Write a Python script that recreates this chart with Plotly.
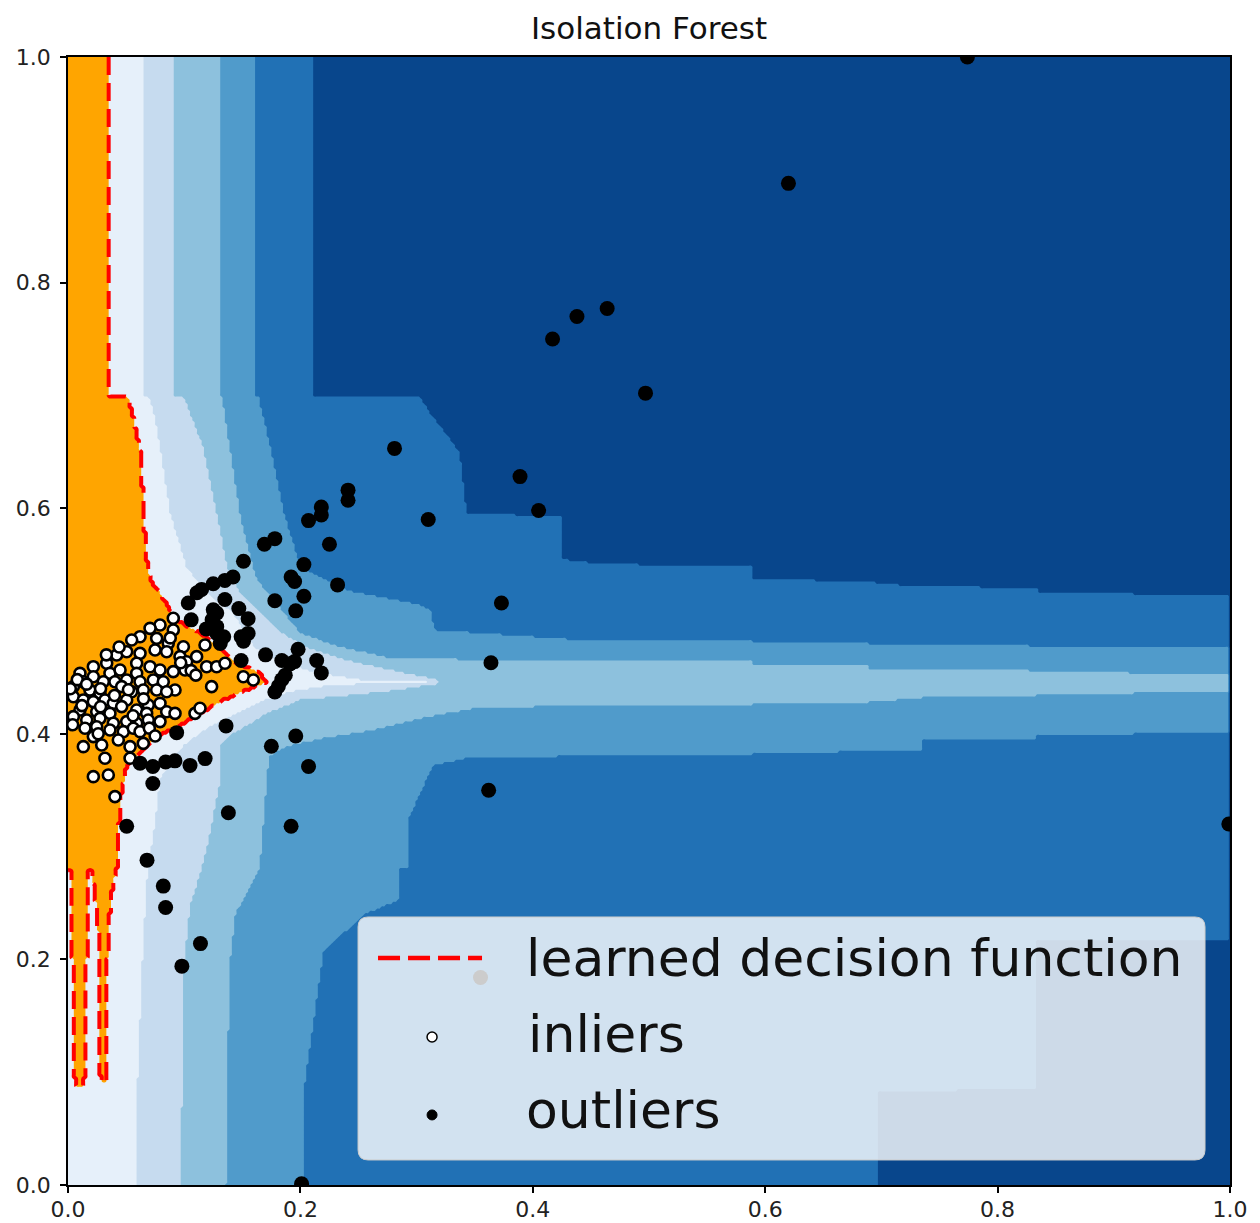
import numpy as np
import plotly.graph_objects as go

# ---- score bands: 0 = most anomalous ... 5 = just below threshold, 6 = above threshold
band_colors = ["#08468c", "#2171b5", "#509bcb", "#8dc1dd", "#c6dbef", "#e6f0fa", "#ffa500"]

# Right-hand edge (x) of the region whose score reaches each band, as (y, x) vertices, top to bottom.
edge_band1 = [(1.0, 0.211), (0.700, 0.211), (0.698, 0.303), (0.684, 0.312), (0.660, 0.330),
              (0.649, 0.337), (0.596, 0.343), (0.592, 0.426), (0.5545, 0.426), (0.5505, 0.460),
              (0.5485, 0.588), (0.5365, 0.590), (0.5355, 0.696), (0.5325, 0.696), (0.5315, 0.736),
              (0.5305, 0.736), (0.5295, 0.836), (0.5245, 0.836), (0.5235, 1.0), (0.218, 1.0),
              (0.216, 0.834), (0.085, 0.834), (0.083, 0.697), (0.0, 0.697)]
edge_band2 = [(1.0, 0.162), (0.700, 0.162), (0.698, 0.165), (0.690, 0.166), (0.655, 0.174),
              (0.595, 0.186), (0.548, 0.200), (0.527, 0.240), (0.515, 0.300), (0.510, 0.312),
              (0.495, 0.315), (0.492, 0.318), (0.4835, 0.437), (0.4828, 0.590), (0.4815, 0.590),
              (0.4808, 0.690), (0.4795, 0.690), (0.4788, 0.828), (0.4775, 0.828), (0.4768, 1.0),
              (0.4005, 1.0), (0.3995, 0.834), (0.3955, 0.834), (0.3945, 0.735), (0.3845, 0.735),
              (0.3835, 0.590), (0.3815, 0.590), (0.3805, 0.440), (0.378, 0.341), (0.372, 0.315),
              (0.356, 0.307), (0.324, 0.293), (0.282, 0.293), (0.280, 0.286), (0.253, 0.286),
              (0.241, 0.257), (0.208, 0.220), (0.081, 0.2025), (0.0, 0.202)]
edge_band3 = [(1.0, 0.131), (0.700, 0.131), (0.698, 0.133), (0.690, 0.134), (0.655, 0.139),
              (0.595, 0.148), (0.581, 0.151), (0.548, 0.159), (0.536, 0.163), (0.525, 0.172),
              (0.507, 0.186), (0.489, 0.200), (0.477, 0.234), (0.468, 0.274), (0.4655, 0.350),
              (0.4640, 0.590), (0.4610, 0.590), (0.4600, 0.690), (0.4575, 0.690), (0.4565, 0.828),
              (0.4545, 0.828), (0.4535, 1.0), (0.4365, 1.0), (0.4355, 0.834), (0.4335, 0.834),
              (0.4325, 0.736), (0.4305, 0.736), (0.4295, 0.690), (0.4275, 0.690), (0.4265, 0.590),
              (0.4258, 0.590), (0.4250, 0.450), (0.423, 0.352), (0.415, 0.310), (0.403, 0.260),
              (0.396, 0.220), (0.389, 0.188), (0.380, 0.173), (0.359, 0.171), (0.280, 0.165),
              (0.250, 0.150), (0.244, 0.1445), (0.194, 0.139), (0.080, 0.137), (0.0, 0.136)]
edge_band4 = [(1.0, 0.091), (0.700, 0.091), (0.698, 0.100), (0.690, 0.103), (0.655, 0.116),
              (0.595, 0.128), (0.548, 0.137), (0.525, 0.148), (0.507, 0.166), (0.489, 0.185),
              (0.477, 0.205), (0.465, 0.240), (0.455, 0.285), (0.4475, 0.320), (0.4445, 0.320),
              (0.437, 0.270), (0.430, 0.200), (0.418, 0.171), (0.400, 0.142), (0.389, 0.131),
              (0.359, 0.131), (0.300, 0.120), (0.277, 0.114), (0.247, 0.105), (0.194, 0.0998),
              (0.0, 0.097)]
edge_band5 = [(1.0, 0.065), (0.700, 0.065), (0.698, 0.070), (0.680, 0.075), (0.655, 0.079),
              (0.595, 0.088), (0.548, 0.102), (0.525, 0.119), (0.507, 0.142), (0.490, 0.152),
              (0.477, 0.160), (0.465, 0.180), (0.455, 0.210), (0.449, 0.245), (0.4475, 0.255),
              (0.4465, 0.310), (0.4455, 0.310), (0.4445, 0.255), (0.442, 0.220), (0.437, 0.190),
              (0.430, 0.170), (0.418, 0.145), (0.405, 0.120), (0.390, 0.100), (0.375, 0.088),
              (0.359, 0.079), (0.330, 0.076), (0.271, 0.068), (0.212, 0.0645), (0.094, 0.060),
              (0.0, 0.0585)]
edge_band6 = [(1.0, 0.036), (0.700, 0.036), (0.698, 0.052), (0.681, 0.056), (0.652, 0.062),
              (0.620, 0.064), (0.560, 0.067), (0.536, 0.071), (0.525, 0.079), (0.513, 0.086),
              (0.501, 0.093), (0.489, 0.114), (0.477, 0.131), (0.463, 0.145), (0.454, 0.165),
              (0.446, 0.171), (0.439, 0.154), (0.430, 0.134), (0.418, 0.114), (0.406, 0.0935),
              (0.397, 0.076), (0.383, 0.062), (0.371, 0.0505), (0.341, 0.045), (0.300, 0.043),
              (0.2805, 0.042), (0.2795, 0.0), (0.0, 0.0)]

# Narrow above-threshold fingers near the bottom-left: (y, x_left, x_right), top to bottom
orange_spikes = [
    [(0.2800, 0.003, 0.017), (0.200, 0.004, 0.016), (0.100, 0.005, 0.015), (0.087, 0.008, 0.012)],
    [(0.2800, 0.020, 0.041), (0.260, 0.023, 0.038), (0.240, 0.025, 0.036), (0.200, 0.0275, 0.034),
     (0.100, 0.0275, 0.034), (0.092, 0.029, 0.033)],
]

# ---- samples
inliers_x = [0.0906, 0.0792, 0.0706, 0.0906, 0.0620, 0.0548, 0.0763, 0.0863, 0.0993, 0.1179,
             0.0419, 0.0505, 0.0620, 0.0749, 0.0849, 0.0964, 0.1021, 0.1107, 0.1193, 0.1279,
             0.1351, 0.0333, 0.0218, 0.0361, 0.0448, 0.0591, 0.0706, 0.0792, 0.0906, 0.1007,
             0.0591, 0.0103, 0.0132, 0.0218, 0.0304, 0.0404, 0.0505, 0.0620, 0.0734, 0.0820,
             0.0921, 0.1236, 0.1509, 0.1595, 0.0046, 0.0189, 0.0275, 0.0462, 0.0548, 0.0648,
             0.0763, 0.0849, 0.0046, 0.0132, 0.0218, 0.0318, 0.0390, 0.0505, 0.0591, 0.0691,
             0.0792, 0.0103, 0.0247, 0.0361, 0.0462, 0.0677, 0.0849, 0.0921, 0.1093, 0.1136,
             0.0046, 0.0161, 0.0275, 0.0390, 0.0505, 0.0591, 0.0691, 0.0792, 0.0146, 0.0247,
             0.0361, 0.0476, 0.0562, 0.0620, 0.0218, 0.0132, 0.0290, 0.0433, 0.0534, 0.0648,
             0.0318, 0.0534, 0.0218, 0.0347, 0.0404,
             0.0020, 0.0080, 0.0160, 0.0280, 0.0400, 0.0520, 0.0650, 0.0280, 0.0120, 0.0040,
             0.0560, 0.0700, 0.1060, 0.0970, 0.0440, 0.0330, 0.0880, 0.1100, 0.0750, 0.0260]
inliers_y = [0.5024, 0.4965, 0.4935, 0.4920, 0.4861, 0.4832, 0.4846, 0.4802, 0.4772, 0.4787,
             0.4699, 0.4728, 0.4713, 0.4743, 0.4728, 0.4684, 0.4639, 0.4684, 0.4595, 0.4595,
             0.4625, 0.4625, 0.4595, 0.4536, 0.4566, 0.4625, 0.4595, 0.4566, 0.4551, 0.4566,
             0.4536, 0.4536, 0.4462, 0.4506, 0.4462, 0.4462, 0.4477, 0.4462, 0.4477, 0.4462,
             0.4388, 0.4418, 0.4506, 0.4477, 0.4418, 0.4388, 0.4359, 0.4418, 0.4373, 0.4388,
             0.4388, 0.4373, 0.4329, 0.4300, 0.4285, 0.4300, 0.4270, 0.4300, 0.4211, 0.4255,
             0.4270, 0.4211, 0.4196, 0.4181, 0.4241, 0.4181, 0.4196, 0.4181, 0.4181, 0.4226,
             0.4152, 0.4122, 0.4137, 0.4093, 0.4108, 0.4093, 0.4122, 0.4108, 0.4049, 0.4063,
             0.4034, 0.4019, 0.4049, 0.4019, 0.3975, 0.3886, 0.3901, 0.3945, 0.3886, 0.3915,
             0.3783, 0.3783, 0.3620, 0.3635, 0.3443,
             0.4400, 0.4480, 0.4440, 0.4400, 0.4340, 0.4390, 0.4310, 0.4240, 0.4250, 0.4080,
             0.4160, 0.4050, 0.4560, 0.4630, 0.4770, 0.4700, 0.4850, 0.4520, 0.3980, 0.4000]

outliers_x = [0.774, 0.620, 0.417, 0.438, 0.464, 0.497, 0.281, 0.389, 0.405, 0.310,
              0.373, 0.364, 0.362, 0.999, 0.201, 0.355, 0.098, 0.114, 0.084, 0.082,
              0.068, 0.0505, 0.138, 0.192, 0.207, 0.196, 0.175, 0.118, 0.105, 0.092,
              0.084, 0.062, 0.073, 0.073, 0.136, 0.0935,
              0.241, 0.241, 0.218, 0.218, 0.207, 0.178, 0.169, 0.225, 0.151, 0.203,
              0.192, 0.195, 0.232, 0.203, 0.178, 0.196, 0.142, 0.135, 0.125, 0.115,
              0.111, 0.1035, 0.135, 0.147, 0.155, 0.125, 0.128, 0.124, 0.106, 0.119,
              0.128, 0.134, 0.131, 0.128, 0.149, 0.155, 0.151, 0.149, 0.170, 0.198,
              0.184, 0.191, 0.195, 0.214, 0.218, 0.187, 0.184, 0.181, 0.178]
outliers_y = [1.000, 0.888, 0.750, 0.770, 0.777, 0.702, 0.653, 0.628, 0.598, 0.590,
              0.516, 0.463, 0.350, 0.320, 0.001, 0.184, 0.194, 0.214, 0.246, 0.265,
              0.288, 0.318, 0.330, 0.318, 0.371, 0.398, 0.389, 0.378, 0.372, 0.376,
              0.375, 0.374, 0.371, 0.356, 0.407, 0.401,
              0.616, 0.607, 0.601, 0.594, 0.589, 0.573, 0.568, 0.568, 0.553, 0.550,
              0.539, 0.535, 0.532, 0.522, 0.518, 0.509, 0.539, 0.536, 0.533, 0.528,
              0.525, 0.516, 0.519, 0.511, 0.502, 0.510, 0.507, 0.501, 0.501, 0.493,
              0.495, 0.486, 0.480, 0.489, 0.486, 0.489, 0.482, 0.465, 0.470, 0.475,
              0.465, 0.462, 0.464, 0.465, 0.454, 0.452, 0.448, 0.442, 0.437]

tick_vals = [0.0, 0.2, 0.4, 0.6, 0.8, 1.0]
tick_text = ["0.0", "0.2", "0.4", "0.6", "0.8", "1.0"]
legend_labels = ["learned decision function", "inliers", "outliers"]

# ---- rasterise the band map on a fine grid
gx = np.linspace(0.0, 1.0, 501)
gy = np.linspace(0.0, 1.0, 501)


def edge_profile(vertices):
    v = np.array(vertices)[::-1]
    return np.interp(gy, v[:, 0], v[:, 1])


score = np.zeros((gy.size, gx.size))
for edge in (edge_band1, edge_band2, edge_band3, edge_band4, edge_band5, edge_band6):
    score += gx[None, :] < edge_profile(edge)[:, None]

for spike in orange_spikes:
    s = np.array(spike)[::-1]
    in_rows = (gy >= s[:, 0].min()) & (gy <= s[:, 0].max())
    xl = np.interp(gy, s[:, 0], s[:, 1])
    xr = np.interp(gy, s[:, 0], s[:, 2])
    mask = in_rows[:, None] & (gx[None, :] > xl[:, None]) & (gx[None, :] < xr[:, None])
    score[mask] = 6

# stepped colour scale: one flat colour per band
n_band = len(band_colors)
colorscale = []
for i, c in enumerate(band_colors):
    lo = 0.0 if i == 0 else (i - 0.5) / (n_band - 1)
    hi = 1.0 if i == n_band - 1 else (i + 0.5) / (n_band - 1)
    colorscale += [[lo, c], [hi, c]]

fig = go.Figure()
fig.add_trace(go.Contour(
    x=gx, y=gy, z=score, zmin=0, zmax=6, zauto=False,
    colorscale=colorscale, showscale=False, hoverinfo="skip",
    contours=dict(start=0.5, end=5.5, size=1, coloring="fill", showlines=False),
    line=dict(width=0),
))
fig.add_trace(go.Contour(
    x=gx, y=gy, z=score, showscale=False, hoverinfo="skip",
    contours=dict(start=5.5, end=5.5, size=1, coloring="none"),
    line=dict(color="red", width=4, dash="18px,8px", smoothing=0.8),
))
fig.add_trace(go.Scatter(
    x=inliers_x, y=inliers_y, mode="markers", name=legend_labels[1],
    marker=dict(size=11, color="white", line=dict(color="black", width=2.6)),
))
fig.add_trace(go.Scatter(
    x=outliers_x, y=outliers_y, mode="markers", name=legend_labels[2],
    marker=dict(size=15, color="black", line=dict(width=0)),
))

# ---- legend box drawn by hand (translucent, rounded)
bx0, bx1, by0, by1 = 0.2496, 0.9785, 0.0222, 0.2376
rx, ry = 0.0086, 0.0089
box_path = (f"M{bx0 + rx},{by0} L{bx1 - rx},{by0} Q{bx1},{by0} {bx1},{by0 + ry} "
            f"L{bx1},{by1 - ry} Q{bx1},{by1} {bx1 - rx},{by1} L{bx0 + rx},{by1} "
            f"Q{bx0},{by1} {bx0},{by1 - ry} L{bx0},{by0 + ry} Q{bx0},{by0} {bx0 + rx},{by0} Z")
shapes = [
    dict(type="path", xref="paper", yref="paper", path=box_path,
         fillcolor="rgba(255,255,255,0.8)", line=dict(color="rgb(204,204,204)", width=1)),
    dict(type="line", xref="paper", yref="paper", x0=0.2668, x1=0.3563, y0=0.2012, y1=0.2012,
         line=dict(color="red", width=4.5, dash="22px,8px")),
    dict(type="circle", xref="paper", yref="paper", xsizemode="pixel", ysizemode="pixel",
         xanchor=0.3133, yanchor=0.1312, x0=-5, x1=5, y0=-5, y1=5,
         fillcolor="white", line=dict(color="black", width=1.5)),
    dict(type="circle", xref="paper", yref="paper", xsizemode="pixel", ysizemode="pixel",
         xanchor=0.3133, yanchor=0.0621, x0=-5, x1=5, y0=-5, y1=5,
         fillcolor="black", line=dict(color="black", width=1)),
]
label_font = dict(family="DejaVu Sans", size=52, color="#111111")
annotations = [
    dict(xref="paper", yref="paper", x=0.3925, y=0.2012, text=legend_labels[0],
         showarrow=False, xanchor="left", yanchor="middle", font=label_font),
    dict(xref="paper", yref="paper", x=0.3940, y=0.1339, text=legend_labels[1],
         showarrow=False, xanchor="left", yanchor="middle", font=label_font),
    dict(xref="paper", yref="paper", x=0.3925, y=0.0665, text=legend_labels[2],
         showarrow=False, xanchor="left", yanchor="middle", font=label_font),
]

axis_style = dict(
    range=[0, 1], showgrid=False, zeroline=False, automargin=False,
    tickvals=tick_vals, ticktext=tick_text, ticks="outside", ticklen=6, tickwidth=1.6,
    tickcolor="black", showline=True, linecolor="black", linewidth=1.6, mirror=True,
    tickfont=dict(family="DejaVu Sans", size=22, color="#222222"),
)

fig.update_layout(
    width=1260, height=1223,
    margin=dict(l=68, r=30, t=57, b=38),
    paper_bgcolor="white", plot_bgcolor="white",
    showlegend=False,
    title=dict(text="Isolation Forest", x=0.5, xref="paper", xanchor="center",
               y=1 - 28 / 1223, yref="container", yanchor="middle",
               font=dict(family="DejaVu Sans", size=31, color="#111111")),
    xaxis=dict(axis_style, ticklabelstandoff=-2),
    yaxis=dict(axis_style, ticklabelstandoff=5),
    shapes=shapes, annotations=annotations,
)

fig.write_html("out.html")
